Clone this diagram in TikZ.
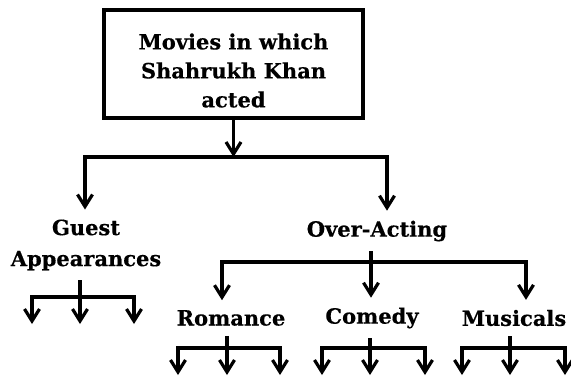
\documentclass[tikz,border=0pt]{standalone}
\usepackage{fontspec}
\setmainfont{DejaVu Serif}[BoldFont={DejaVu Serif Bold},BoldFeatures={FakeBold=0.4}]
\usetikzlibrary{arrows.meta}
\tikzset{
  tree/.style={line width=3.2pt},
  tip/.tip={Straight Barb[length=12pt,width=15pt]},
  down/.style={tree,-tip},
  fork/.style={tree,line join=miter,tip-tip},
  headbox/.style={draw,line width=3.4pt,minimum width=259pt,minimum height=108pt,align=center,
    font=\bfseries\fontsize{21}{29}\selectfont},
  cat/.style={align=center,inner sep=0pt,outer sep=10pt,font=\bfseries\fontsize{21}{31}\selectfont}
}
\begin{document}
\begin{tikzpicture}[x=1pt,y=-1pt]
  \useasboundingbox (0,0) rectangle (571,376);
  \node[headbox] (movies) at (233.5,64) {\rule{0pt}{29pt}Movies in which\\Shahrukh Khan\\acted};
  \node[cat] (guest) at (86,245) {Guest\\Appearances};
  \node[cat] (over) at (377,231) {Over-Acting};
  \node[cat] (romance) at (231,318) {Romance};
  \node[cat] (comedy) at (372,318) {Comedy};
  \node[cat] (musicals) at (514,318) {Musicals};

  % first split
  \coordinate (top-l) at (85,157);
  \coordinate (top-r) at (387,157);
  \draw[down] (movies.south) -- (movies.south |- top-l);
  \draw[fork] (guest.north -| top-l) -- (top-l) -- (top-r) -- (over.north -| top-r);

  % over-acting split
  \coordinate (mid-l) at (222,262);
  \coordinate (mid-c) at (371,262);
  \coordinate (mid-r) at (526,262);
  \draw[down] (mid-c |- over.south) -- (mid-c |- comedy.north);
  \draw[fork] (romance.north -| mid-l) -- (mid-l) -- (mid-r) -- (musicals.north -| mid-r);

  % leaves
  \foreach \grp/\a/\b/\c/\ybar/\ytip in {guest/32/80/134/297/324,
      romance/178/227/280/348/375, comedy/322/370/425/348/375,
      musicals/462/510/565/348/375} {
    \coordinate (\grp-1) at (\a,\ytip);
    \coordinate (\grp-2) at (\b,\ytip);
    \coordinate (\grp-3) at (\c,\ytip);
    \coordinate (\grp-bar) at (\b,\ybar);
    \draw[down] (\grp.south -| \grp-2) -- (\grp-2);
    \draw[fork] (\grp-1) -- (\grp-1 |- \grp-bar) -- (\grp-3 |- \grp-bar) -- (\grp-3);
  }
\end{tikzpicture}
\end{document}
